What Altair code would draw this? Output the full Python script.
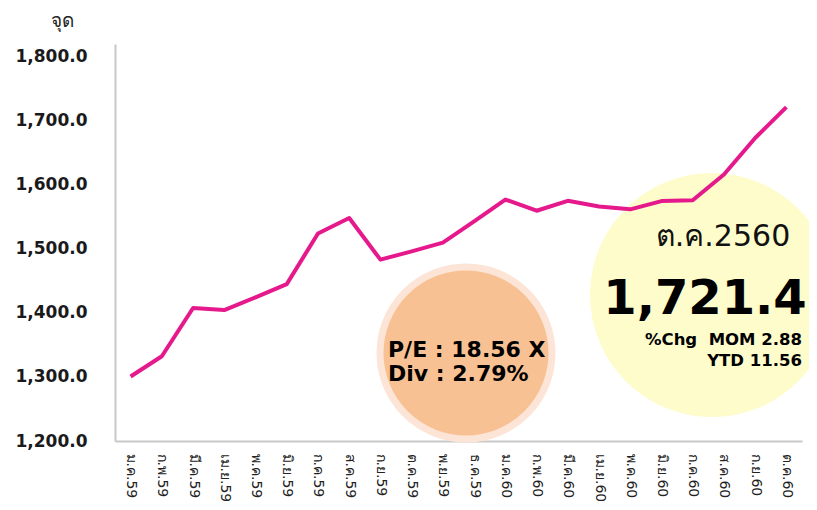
import altair as alt
import pandas as pd

months = ["ม.ค.59", "ก.พ.59", "มี.ค.59", "เม.ย.59", "พ.ค.59", "มิ.ย.59", "ก.ค.59",
          "ส.ค.59", "ก.ย.59", "ต.ค.59", "พ.ย.59", "ธ.ค.59", "ม.ค.60", "ก.พ.60",
          "มี.ค.60", "เม.ย.60", "พ.ค.60", "มิ.ย.60", "ก.ค.60", "ส.ค.60", "ก.ย.60", "ต.ค.60"]
values = [1300.8, 1332.3, 1407.7, 1404.5, 1424.3, 1445.0, 1524.1, 1548.2, 1483.2,
          1496.2, 1509.7, 1542.9, 1577.1, 1559.6, 1575.1, 1566.3, 1561.8, 1574.7,
          1576.1, 1616.2, 1673.2, 1721.4]
y_ticks = [1200, 1300, 1400, 1500, 1600, 1700, 1800]

unit_label = ["จุด"]
month_label = ["ต.ค.2560"]
index_label = ["1,721.4"]
chg_lines = ["%Chg\u00a0\u00a0MOM 2.88", "YTD 11.56"]
pe_lines = ["P/E : 18.56 X", "Div : 2.79%"]

df = pd.DataFrame({"month": months, "value": values})

W, H = 687, 397
FONT = "DejaVu Sans"

line = alt.Chart(df).mark_line(color="#E6198C", strokeWidth=4, strokeJoin="round").encode(
    x=alt.X("month:O", sort=None, title=None,
            scale=alt.Scale(type="point", padding=0.5),
            axis=alt.Axis(labelAngle=90, labelAlign="left", labelBaseline="middle",
                          labelPadding=12, labelFontSize=14, labelColor="#222222",
                          labelFont=FONT, ticks=False, domainColor="#C8C8C8",
                          domainWidth=2, grid=False)),
    y=alt.Y("value:Q", title=None,
            scale=alt.Scale(domain=[1200, 1820], nice=False, zero=False),
            axis=alt.Axis(values=y_ticks, format=",.1f", labelFontSize=17,
                          labelFontWeight="bold", labelFont=FONT, labelColor="#1a1a1a",
                          labelPadding=28, ticks=False, grid=False,
                          domainColor="#C8C8C8", domainWidth=2))
)

one = pd.DataFrame({"a": [0]})

# Vega circle symbol: radius = sqrt(size) / 2
orange = alt.Chart(one).mark_circle(opacity=1, color="#F8C193", stroke="#FCE5D6",
                                    strokeWidth=7).encode(
    x=alt.value(351), y=alt.value(309), size=alt.value((2 * 86) ** 2))
yellow = alt.Chart(one).mark_circle(opacity=1, color="#FEFCCB").encode(
    x=alt.value(597), y=alt.value(251), size=alt.value((2 * 122) ** 2))

t_unit = alt.Chart(pd.DataFrame({"t": unit_label})).mark_text(
    fontSize=19, font=FONT, color="#222222", align="center", baseline="middle").encode(
    x=alt.value(-53), y=alt.value(-23), text="t:N")

t_month = alt.Chart(pd.DataFrame({"t": month_label})).mark_text(
    fontSize=30, font=FONT, color="#111111", align="center", baseline="middle").encode(
    x=alt.value(608), y=alt.value(193), text="t:N")

t_index = alt.Chart(pd.DataFrame({"t": index_label})).mark_text(
    fontSize=48, font=FONT, fontWeight="bold", color="#000000", align="center",
    baseline="alphabetic").encode(
    x=alt.value(590), y=alt.value(270), text="t:N")


def single(lst, idx):
    return pd.DataFrame({"t": [lst[idx]]})


t_chg1 = alt.Chart(single(chg_lines, 0)).mark_text(
    fontSize=16.5, font=FONT, fontWeight="bold", color="#000000", align="right",
    baseline="alphabetic").encode(x=alt.value(687), y=alt.value(301), text="t:N")
t_chg2 = alt.Chart(single(chg_lines, 1)).mark_text(
    fontSize=16.5, font=FONT, fontWeight="bold", color="#000000", align="right",
    baseline="alphabetic").encode(x=alt.value(687), y=alt.value(322), text="t:N")
t_pe1 = alt.Chart(single(pe_lines, 0)).mark_text(
    fontSize=22, font=FONT, fontWeight="bold", color="#000000", align="left",
    baseline="alphabetic").encode(x=alt.value(273), y=alt.value(313), text="t:N")
t_pe2 = alt.Chart(single(pe_lines, 1)).mark_text(
    fontSize=22, font=FONT, fontWeight="bold", color="#000000", align="left",
    baseline="alphabetic").encode(x=alt.value(273), y=alt.value(337), text="t:N")

chart = alt.layer(orange, yellow, line, t_unit, t_month, t_index,
                  t_chg1, t_chg2, t_pe1, t_pe2).properties(
    width=W, height=H,
    autosize=alt.AutoSizeParams(type="none"),
    padding={"left": 107, "top": 36, "right": 7, "bottom": 60},
    background="white",
).configure_view(stroke=None)

chart.save("out.html", embed_options={"renderer": "svg", "actions": False})
